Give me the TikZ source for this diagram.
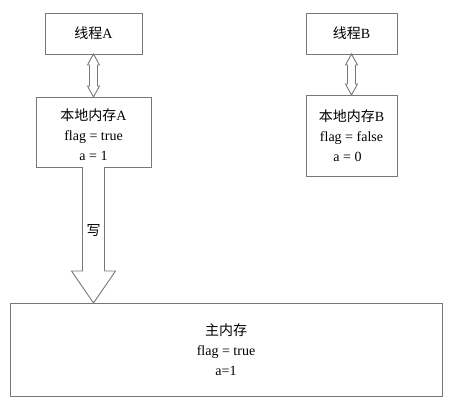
\documentclass[tikz,border=0pt]{standalone}
\usepackage{fontspec}
\setmainfont{Liberation Serif}
\newfontfamily\cjk{Noto Sans CJK SC}
\usetikzlibrary{calc}
\definecolor{lc}{RGB}{120,120,120}
\tikzset{
  membox/.style={draw=lc, line width=0.9pt, inner sep=0pt, outer sep=0pt, align=center,
    font=\fontsize{14pt}{20pt}\selectfont},
  hollow/.style={draw=lc, line width=0.9pt, fill=white, line join=miter},
}
\begin{document}
\begin{tikzpicture}[x=1pt,y=1pt]
\useasboundingbox (0,0) rectangle (453,-407);
\node[membox, minimum width=97pt, minimum height=41pt] (ta) at (93.5,-33.5) {{\cjk 线程}A};
\node[membox, minimum width=115pt, minimum height=70pt] (la) at (93.5,-132) {\rule{0pt}{18pt}{\cjk 本地内存}A\\flag = true\\a = 1};
\node[membox, minimum width=91pt, minimum height=41pt] (tb) at (351.5,-33.5) {{\cjk 线程}B};
\node[membox, minimum width=91pt, minimum height=81pt] (lb) at (351.5,-135.5) {{\cjk 本地内存}B\\flag = false\\\hspace*{-8pt}a = 0};
\node[membox, minimum width=432pt, minimum height=93pt] (mm) at (226,-349.5) {{\cjk 主内存}\\flag = true\\a=1};
% double arrow A
\draw[hollow] let \p1=(ta.south), \p2=(la.north) in
  (\p1) -- (\x1+6,\y1-11) -- (\x1+4,\y1-11) -- (\x1+4,\y2+11) -- (\x1+6,\y2+11) -- (\p2)
  -- (\x1-6,\y2+11) -- (\x1-4,\y2+11) -- (\x1-4,\y1-11) -- (\x1-6,\y1-11) -- cycle;
% double arrow B
\draw[hollow] let \p1=(tb.south), \p2=(lb.north) in
  (\p1) -- (\x1+6,\y1-11) -- (\x1+4,\y1-11) -- (\x1+4,\y2+11) -- (\x1+6,\y2+11) -- (\p2)
  -- (\x1-6,\y2+11) -- (\x1-4,\y2+11) -- (\x1-4,\y1-11) -- (\x1-6,\y1-11) -- cycle;
% write arrow
\coordinate (wt) at (la.south |- mm.north);
\draw[hollow] let \p1=(la.south), \p2=(wt) in
  (\x1-11,\y1) -- (\x1-11,\y2+32) -- (\x1-22,\y2+32) -- (\p2) -- (\x1+22,\y2+32)
  -- (\x1+11,\y2+32) -- (\x1+11,\y1);
\node[font=\cjk\fontsize{14pt}{16pt}\selectfont] (w) at (93.5,-230) {写};
\end{tikzpicture}
\end{document}
